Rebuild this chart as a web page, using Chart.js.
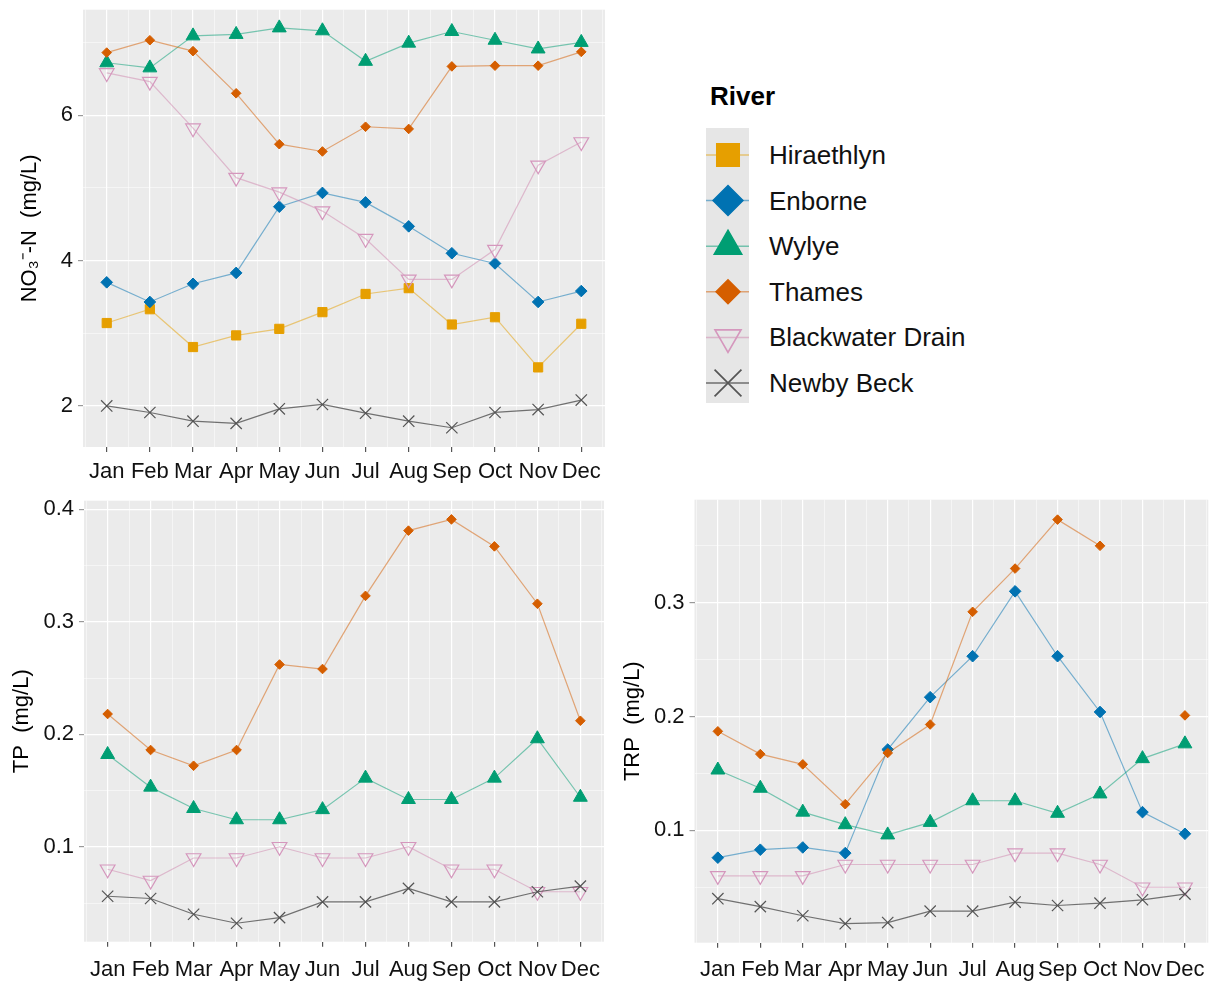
<!DOCTYPE html>
<html>
<head>
<meta charset="utf-8">
<script src="https://cdn.jsdelivr.net/npm/chart.js@4.4.1/dist/chart.umd.min.js"></script>
<style>
  body { margin: 0; background: #fff; width: 1218px; height: 985px; position: relative; overflow: hidden;
         font-family: "Liberation Sans", Arial, sans-serif; }
  canvas { position: absolute; }
  .legTitle { position: absolute; left: 710px; top: 81px; font-size: 26px; font-weight: bold; line-height: 30px; color: #000; }
  .legLabel { position: absolute; left: 769px; font-size: 26px; line-height: 30px; color: #111; white-space: nowrap; }
</style>
</head>
<body>
<canvas id="no3" width="620" height="490" style="left:0;top:0"></canvas>
<canvas id="tp" width="620" height="495" style="left:0;top:490px"></canvas>
<canvas id="trp" width="598" height="495" style="left:620px;top:490px"></canvas>
<div class="legTitle">River</div>
<canvas id="legendKeys" width="43" height="275" style="left:706px;top:128px"></canvas>
<div id="legendLabels"></div>

<script>
// ---- Data ----
const months = ['Jan', 'Feb', 'Mar', 'Apr', 'May', 'Jun', 'Jul', 'Aug', 'Sep', 'Oct', 'Nov', 'Dec'];
const rivers = ['Hiraethlyn', 'Enborne', 'Wylye', 'Thames', 'Blackwater Drain', 'Newby Beck'];

// NO3-N (mg/L)
const no3Hiraethlyn = [3.14, 3.33, 2.81, 2.97, 3.06, 3.29, 3.54, 3.62, 3.12, 3.22, 2.53, 3.13];
const no3Enborne    = [3.70, 3.43, 3.68, 3.83, 4.74, 4.93, 4.80, 4.47, 4.10, 3.96, 3.43, 3.58];
const no3Wylye      = [6.72, 6.65, 7.09, 7.11, 7.20, 7.16, 6.74, 6.99, 7.15, 7.03, 6.91, 7.00];
const no3Thames     = [6.86, 7.03, 6.88, 6.30, 5.60, 5.50, 5.84, 5.81, 6.67, 6.68, 6.68, 6.87];
const no3Blackwater = [6.58, 6.46, 5.82, 5.14, 4.94, 4.68, 4.30, 3.74, 3.74, 4.15, 5.31, 5.63];
const no3Newby      = [2.00, 1.91, 1.79, 1.76, 1.96, 2.02, 1.90, 1.79, 1.70, 1.91, 1.95, 2.08];

// TP (mg/L)
const tpThames     = [0.218, 0.186, 0.172, 0.186, 0.262, 0.258, 0.323, 0.381, 0.391, 0.367, 0.316, 0.212];
const tpWylye      = [0.182, 0.153, 0.134, 0.124, 0.124, 0.133, 0.161, 0.142, 0.142, 0.161, 0.196, 0.144];
const tpBlackwater = [0.080, 0.070, 0.090, 0.090, 0.100, 0.090, 0.090, 0.100, 0.080, 0.080, 0.060, 0.060];
const tpNewby      = [0.056, 0.054, 0.040, 0.032, 0.037, 0.051, 0.051, 0.063, 0.051, 0.051, 0.060, 0.065];

// TRP (mg/L)
const trpThames     = [0.187, 0.167, 0.158, 0.123, 0.168, 0.193, 0.292, 0.330, 0.373, 0.350, null, 0.201];
const trpEnborne    = [0.076, 0.083, 0.085, 0.080, 0.171, 0.217, 0.253, 0.310, 0.253, 0.204, 0.116, 0.097];
const trpWylye      = [0.153, 0.137, 0.116, 0.105, 0.096, 0.107, 0.126, 0.126, 0.115, 0.132, 0.163, 0.176];
const trpBlackwater = [0.060, 0.060, 0.060, 0.070, 0.070, 0.070, 0.070, 0.080, 0.080, 0.070, 0.050, 0.050];
const trpNewby      = [0.040, 0.033, 0.025, 0.018, 0.019, 0.029, 0.029, 0.037, 0.034, 0.036, 0.039, 0.044];

// tick labels
const no3Ticks = [2, 4, 6];
const tpTicks = [0.1, 0.2, 0.3, 0.4];
const trpTicks = [0.1, 0.2, 0.3];

// ---- Styles ----
const riverStyle = {
  'Hiraethlyn':       { color: '#E69F00', line: 'rgba(230,159,0,0.5)',    shape: 'rect',     r: 6.5, bw: 1 },
  'Enborne':          { color: '#0072B2', line: 'rgba(0,114,178,0.5)',    shape: 'rectRot',  r: 5.8, bw: 1 },
  'Wylye':            { color: '#009E73', line: 'rgba(0,158,115,0.5)',    shape: 'triangle', r: 8,   bw: 1 },
  'Thames':           { color: '#D55E00', line: 'rgba(213,94,0,0.5)',     shape: 'rectRot',  r: 4.8, bw: 1 },
  'Blackwater Drain': { color: '#D597BD', line: 'rgba(204,121,167,0.45)', shape: 'triangle', r: 8.5, bw: 1.2, rot: 180, open: true },
  'Newby Beck':       { color: '#555555', line: 'rgba(30,30,30,0.6)',     shape: 'crossRot', r: 8,   bw: 1.2 }
};
const FONT = "'Liberation Sans', Arial, sans-serif";

// gray ggplot-like panel
const panelBg = {
  id: 'panelBg',
  beforeDraw(chart) {
    const { ctx, chartArea: a } = chart;
    ctx.save();
    ctx.fillStyle = '#EBEBEB';
    ctx.fillRect(a.left, a.top, a.width, a.height);
    ctx.restore();
  }
};

function minorBetween(major, lo, hi) {
  const step = major[1] - major[0];
  const out = [];
  for (let v = major[0] - step / 2; v <= hi + 1e-9; v += step) {
    if (v >= lo) out.push(+v.toFixed(6));
  }
  return out;
}
const isIn = (list, v) => list.some(t => Math.abs(t - v) < 1e-6);

function makePanel(canvasId, series, yTitle, yMajor, yMin, yMax, lay) {
  const xMajor = months.map((m, i) => i + 1);
  const xMinor = minorBetween(xMajor, 0.45, 12.55);
  const yMinor = minorBetween(yMajor, yMin, yMax);

  const datasets = series.map(([name, vals]) => {
    const s = riverStyle[name];
    return {
      label: name,
      data: vals.map((v, k) => ({ x: k + 1, y: v })),
      borderColor: s.line,
      borderWidth: 1.2,
      tension: 0,
      pointStyle: s.shape,
      pointRotation: s.rot || 0,
      pointRadius: s.r,
      pointHoverRadius: s.r,
      pointBackgroundColor: s.open ? 'rgba(0,0,0,0)' : s.color,
      pointBorderColor: s.color,
      pointBorderWidth: s.bw,
      order: 10 - rivers.indexOf(name)
    };
  });

  new Chart(document.getElementById(canvasId), {
    type: 'line',
    data: { datasets },
    plugins: [panelBg],
    options: {
      responsive: false,
      animation: false,
      events: [],
      layout: { padding: { top: lay.top, right: lay.right, left: 0, bottom: 0 } },
      plugins: { legend: { display: false }, tooltip: { enabled: false } },
      scales: {
        x: {
          type: 'linear', min: 0.45, max: 12.55,
          afterBuildTicks: sc => { sc.ticks = [...xMajor, ...xMinor].sort((a, b) => a - b).map(v => ({ value: v })); },
          afterFit: sc => { sc.height = lay.xHeight; sc.paddingLeft = 0; sc.paddingRight = 0; },
          ticks: {
            autoSkip: false, maxRotation: 0, minRotation: 0, padding: lay.xPad,
            font: { family: FONT, size: 22 }, color: '#111',
            callback: v => isIn(xMajor, v) ? months[Math.round(v) - 1] : ''
          },
          grid: {
            color: '#FFFFFF',
            lineWidth: c => isIn(xMajor, c.tick.value) ? 1.2 : 0.5,
            tickColor: c => isIn(xMajor, c.tick.value) ? '#555' : 'rgba(0,0,0,0)',
            tickLength: 5
          },
          border: { display: false }
        },
        y: {
          type: 'linear', min: yMin, max: yMax,
          afterBuildTicks: sc => { sc.ticks = [...yMajor, ...yMinor].sort((a, b) => a - b).map(v => ({ value: v })); },
          afterFit: sc => { sc.width = lay.yWidth; sc.paddingTop = 0; sc.paddingBottom = 0; },
          ticks: {
            padding: 5,
            font: { family: FONT, size: 22 }, color: '#111',
            callback: v => isIn(yMajor, v) ? String(yMajor.find(t => Math.abs(t - v) < 1e-6)) : ''
          },
          grid: {
            color: '#FFFFFF',
            lineWidth: c => isIn(yMajor, c.tick.value) ? 1.2 : 0.5,
            tickColor: c => isIn(yMajor, c.tick.value) ? '#999' : 'rgba(0,0,0,0)',
            tickLength: 5
          },
          border: { display: false },
          title: {
            display: true, text: yTitle, color: '#000',
            font: { family: FONT, size: 22 },
            padding: { top: lay.titlePad, bottom: 0 }
          }
        }
      }
    }
  });
}

makePanel('no3', [
  ['Hiraethlyn', no3Hiraethlyn], ['Enborne', no3Enborne], ['Wylye', no3Wylye],
  ['Thames', no3Thames], ['Blackwater Drain', no3Blackwater], ['Newby Beck', no3Newby]
], 'NO\u2083\u207B-N  (mg/L)', no3Ticks, 1.435, 7.45,
  { top: 7, right: 15, xHeight: 43, yWidth: 83, titlePad: 17, xPad: 7 });

makePanel('tp', [
  ['Wylye', tpWylye], ['Thames', tpThames], ['Blackwater Drain', tpBlackwater], ['Newby Beck', tpNewby]
], 'TP  (mg/L)', tpTicks, 0.0156, 0.4076,
  { top: 10.7, right: 16, xHeight: 43.3, yWidth: 84, titlePad: 9, xPad: 10 });

makePanel('trp', [
  ['Enborne', trpEnborne], ['Wylye', trpWylye], ['Thames', trpThames],
  ['Blackwater Drain', trpBlackwater], ['Newby Beck', trpNewby]
], 'TRP  (mg/L)', trpTicks, 0.0013, 0.3905,
  { top: 8.3, right: 5, xHeight: 42.3, yWidth: 74.5, titlePad: 0, xPad: 9 });

// ---- Legend ----
(function() {
  const legendScale = { 'Hiraethlyn': 16, 'Enborne': 15, 'Wylye': 16, 'Thames': 12, 'Blackwater Drain': 15, 'Newby Beck': 19 };
  const cv = document.getElementById('legendKeys');
  const ctx = cv.getContext('2d');
  ctx.fillStyle = '#E6E6E6';
  ctx.fillRect(0, 0, cv.width, cv.height);
  const labels = document.getElementById('legendLabels');
  rivers.forEach((name, i) => {
    const s = riverStyle[name];
    const cy = 27 + i * 45.6;
    ctx.strokeStyle = s.line;
    ctx.lineWidth = 1.5;
    ctx.beginPath();
    ctx.moveTo(0, cy);
    ctx.lineTo(cv.width, cy);
    ctx.stroke();
    ctx.fillStyle = s.open ? 'rgba(0,0,0,0)' : s.color;
    ctx.strokeStyle = s.color;
    ctx.lineWidth = s.bw * 1.4;
    Chart.helpers.drawPoint(ctx, {
      pointStyle: s.shape, rotation: s.rot || 0, radius: legendScale[name], borderWidth: s.bw * 1.4
    }, 22, cy);

    const d = document.createElement('div');
    d.className = 'legLabel';
    d.style.top = (128 + cy - 15) + 'px';
    d.textContent = name;
    labels.appendChild(d);
  });
})();
</script>
</body>
</html>
